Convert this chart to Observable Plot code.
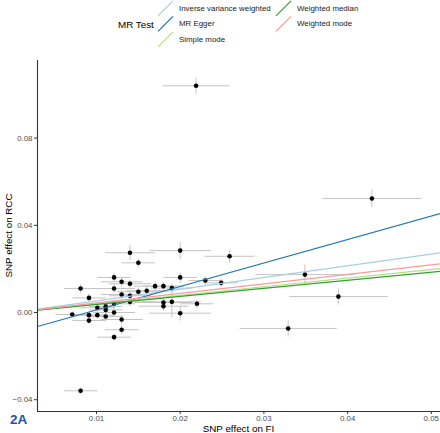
<!DOCTYPE html>
<html>
<head>
<meta charset="utf-8">
<script src="https://cdn.jsdelivr.net/npm/d3@7"></script>
<script src="https://cdn.jsdelivr.net/npm/@observablehq/plot@0.6"></script>
<style>
  html, body { margin: 0; padding: 0; background: #fff; }
  #wrap { position: relative; width: 440px; height: 433px; overflow: hidden; font-family: "Liberation Sans", Arial, sans-serif; }
  #plot { position: absolute; left: 0; top: 50px; }
  #overlay { position: absolute; left: 0; top: 0; pointer-events: none; }
</style>
</head>
<body>
<div id="wrap">
  <div id="plot"></div>
  <svg id="overlay" width="440" height="433"></svg>
</div>
<script>
// ---- data ----
const snpX = [0.0219, 0.0429, 0.0349, 0.0389, 0.0329, 0.0259, 0.0200, 0.0200, 0.0230, 0.0249,
              0.0170, 0.0180, 0.0190, 0.0180, 0.0190, 0.0180, 0.0220, 0.0200, 0.0140, 0.0150,
              0.0121, 0.0130, 0.0140, 0.0081, 0.0121, 0.0160, 0.0150, 0.0130, 0.0140, 0.0091,
              0.0140, 0.0121, 0.0111, 0.0101, 0.0111, 0.0121, 0.0071, 0.0091, 0.0101, 0.0111,
              0.0091, 0.0130, 0.0130, 0.0121, 0.0081];
const snpY = [0.1040, 0.0523, 0.0174, 0.0073, -0.0073, 0.0258, 0.0284, 0.0161, 0.0147, 0.0136,
              0.0121, 0.0121, 0.0112, 0.0046, 0.0049, 0.0029, 0.0040, -0.0003, 0.0274, 0.0228,
              0.0161, 0.0141, 0.0132, 0.0110, 0.0110, 0.0100, 0.0095, 0.0083, 0.0077, 0.0067,
              0.0049, 0.0040, 0.0028, 0.0022, 0.0012, 0.0000, -0.0009, -0.0012, -0.0012, -0.0018,
              -0.0037, -0.0032, -0.0079, -0.0113, -0.0359];
const seX = [0.0040, 0.0059, 0.0059, 0.0059, 0.0058, 0.0030, 0.0037, 0.0020, 0.0020, 0.0020,
             0.0025, 0.0025, 0.0025, 0.0035, 0.0035, 0.0030, 0.0020, 0.0037, 0.0030, 0.0020,
             0.0020, 0.0025, 0.0025, 0.0020, 0.0025, 0.0025, 0.0025, 0.0025, 0.0025, 0.0020,
             0.0025, 0.0025, 0.0020, 0.0020, 0.0020, 0.0025, 0.0020, 0.0020, 0.0020, 0.0020,
             0.0020, 0.0025, 0.0020, 0.0020, 0.0020];
const seY = [0.0037, 0.0040, 0.0046, 0.0037, 0.0037, 0.0030, 0.0040, 0.0025, 0.0020, 0.0020,
             0.0020, 0.0020, 0.0020, 0.0020, 0.0070, 0.0020, 0.0020, 0.0034, 0.0034, 0.0020,
             0.0020, 0.0020, 0.0020, 0.0020, 0.0020, 0.0020, 0.0020, 0.0020, 0.0020, 0.0020,
             0.0020, 0.0020, 0.0020, 0.0020, 0.0020, 0.0020, 0.0015, 0.0015, 0.0015, 0.0020,
             0.0015, 0.0020, 0.0020, 0.0015, 0.0015];

const methods    = ["Inverse variance weighted", "MR Egger", "Simple mode", "Weighted median", "Weighted mode"];
const methodColors = ["#a6cee3", "#1f78b4", "#b2df8a", "#33a02c", "#fb9a99"];
const slopes     = [0.536, 1.077, 0.395, 0.370, 0.437];
const intercepts = [0, -0.0096, 0, 0, 0];

const xTicks = [0.01, 0.02, 0.03, 0.04, 0.05];
const yTicks = [-0.04, 0.00, 0.04, 0.08];
const xDomain = [0.00295, 0.0511];
const yDomain = [-0.0454, 0.1156];

// ---- derived tables ----
const snps = snpX.map((x, i) => ({x, y: snpY[i], sx: seX[i], sy: seY[i]}));
const lineData = methods.flatMap((m, i) =>
  xDomain.map(x => ({method: m, x, y: intercepts[i] + slopes[i] * x})));

const fmt = d3.format(".2f");
const font = "Liberation Sans, Arial, sans-serif";

const chart = Plot.plot({
  width: 440,
  height: 383,
  marginTop: 10,
  marginBottom: 22,
  marginLeft: 37,
  marginRight: 0,
  style: {fontFamily: font, background: "white"},
  x: {domain: xDomain},
  y: {domain: yDomain},
  color: {domain: methods, range: methodColors},
  marks: [
    Plot.link(snps, {x1: d => d.x - d.sx, x2: d => d.x + d.sx, y1: "y", y2: "y", stroke: "#c4c4c4", strokeWidth: 1}),
    Plot.link(snps, {x1: "x", x2: "x", y1: d => d.y - d.sy, y2: d => d.y + d.sy, stroke: "#c4c4c4", strokeWidth: 1}),
    Plot.dot(snps, {x: "x", y: "y", r: 2.3, fill: "black"}),
    Plot.line(lineData, {x: "x", y: "y", z: "method", stroke: "method", strokeWidth: 1.2, clip: true}),
    Plot.ruleX([xDomain[0]], {stroke: "#333", strokeWidth: 1.1}),
    Plot.ruleY([yDomain[0]], {stroke: "#333", strokeWidth: 1.1}),
    Plot.axisX({ticks: xTicks, tickFormat: fmt, tickSize: 3, tickPadding: 1, fontSize: 7.9, stroke: "#333", fill: "#4d4d4d", label: null}),
    Plot.axisY({ticks: yTicks, tickFormat: fmt, tickSize: 3, tickPadding: 2, fontSize: 7.9, stroke: "#333", fill: "#4d4d4d", label: null})
  ]
});
document.getElementById("plot").appendChild(chart);

// ---- legend and titles ----
const ov = d3.select("#overlay").style("font-family", font);
ov.append("text").attr("x", 118).attr("y", 24).attr("dominant-baseline", "central")
  .attr("font-size", 9.8).attr("fill", "black").text("MR Test");

const legendPos = [
  {col: 0, row: 0}, {col: 0, row: 1}, {col: 0, row: 2}, {col: 1, row: 0}, {col: 1, row: 1}
];
methods.forEach((m, i) => {
  const p = legendPos[i];
  const kx = p.col === 0 ? 158 : 276;
  const cy = 8.3 + p.row * 15.5;
  ov.append("line").attr("x1", kx).attr("y1", cy + 7.5).attr("x2", kx + 15).attr("y2", cy - 7.5)
    .attr("stroke", methodColors[i]).attr("stroke-width", 1.2);
  ov.append("text").attr("x", kx + 21).attr("y", cy).attr("dominant-baseline", "central")
    .attr("font-size", 7.9).attr("fill", "#1a1a1a").text(m);
});

ov.append("text").attr("x", 238.5).attr("y", 428).attr("text-anchor", "middle")
  .attr("dominant-baseline", "central").attr("font-size", 9.8).attr("fill", "black").text("SNP effect on FI");
ov.append("text").attr("transform", "translate(8,235.5) rotate(-90)").attr("text-anchor", "middle")
  .attr("dominant-baseline", "central").attr("font-size", 9.8).attr("fill", "black").text("SNP effect on RCC");
ov.append("text").attr("x", 10).attr("y", 419).attr("dominant-baseline", "central")
  .attr("font-size", 13.5).attr("font-weight", "bold").attr("fill", "#1f4fb5").text("2A");
</script>
</body>
</html>
